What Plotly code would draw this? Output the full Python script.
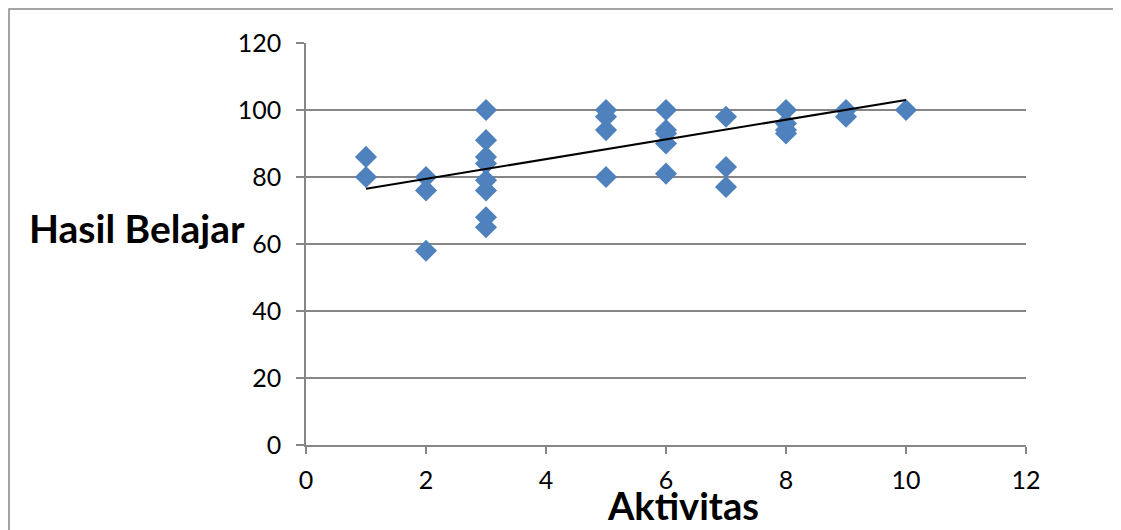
import plotly.graph_objects as go

# Data
aktivitas = [1, 1,
             2, 2, 2,
             3, 3, 3, 3, 3, 3, 3, 3,
             5, 5, 5, 5,
             6, 6, 6, 6, 6,
             7, 7, 7,
             8, 8, 8, 8,
             9, 9,
             10]
hasil_belajar = [86, 80,
                 80, 76, 58,
                 100, 91, 86, 84, 79, 76, 68, 65,
                 100, 98, 94, 80,
                 100, 94, 93, 90, 81,
                 98, 83, 77,
                 100, 96, 94, 93,
                 100, 98,
                 100]
# Linear trendline as drawn in the reference (endpoints)
trend_x = [1, 10]
trend_y = [76.5, 103]

x_ticks = [0, 2, 4, 6, 8, 10, 12]
y_ticks = [0, 20, 40, 60, 80, 100, 120]

GRID = "#868686"
BLUE = "#4F81BD"
FONT = "Lato"

fig = go.Figure()
fig.add_trace(go.Scatter(
    x=aktivitas, y=hasil_belajar, mode="markers",
    marker=dict(symbol="diamond", size=17, color=BLUE, line=dict(width=0)),
    showlegend=False, hoverinfo="x+y"))
fig.add_trace(go.Scatter(
    x=trend_x, y=trend_y, mode="lines",
    line=dict(color="black", width=2),
    showlegend=False, hoverinfo="skip"))

fig.update_layout(
    width=1113, height=522,
    margin=dict(l=298, r=95, t=35, b=85),
    paper_bgcolor="white", plot_bgcolor="white",
    font=dict(family=FONT, size=25, color="black"),
    xaxis=dict(range=[0, 12], tickvals=x_ticks, showgrid=False, zeroline=False,
               showline=True, linecolor=GRID, linewidth=1.5,
               ticks="outside", ticklen=7, tickcolor=GRID, tickwidth=1.5,
               ticklabelstandoff=5, tickfont=dict(size=25, family=FONT)),
    yaxis=dict(range=[0, 120], tickvals=y_ticks, showgrid=True, gridcolor=GRID,
               gridwidth=1.5, zeroline=False,
               showline=True, linecolor=GRID, linewidth=1.5,
               ticks="outside", ticklen=8, tickcolor=GRID, tickwidth=1.5,
               ticklabelstandoff=10, tickfont=dict(size=25, family=FONT)),
    annotations=[
        dict(text="<b>Hasil Belajar</b>", xref="paper", yref="paper",
             x=-0.235, y=0.54, xanchor="center", yanchor="middle",
             showarrow=False, font=dict(size=39, family=FONT, color="black")),
        dict(text="<b>Aktivitas</b>", xref="paper", yref="paper",
             x=0.524, y=-0.15, xanchor="center", yanchor="middle",
             showarrow=False, font=dict(size=38, family=FONT, color="black")),
    ],
    shapes=[
        dict(type="rect", xref="paper", yref="paper",
             x0=-0.4125, x1=1.1264, y0=-0.3, y1=1.0846,
             line=dict(color="#878787", width=1.5), layer="below"),
    ],
)

fig.write_html("out.html")
